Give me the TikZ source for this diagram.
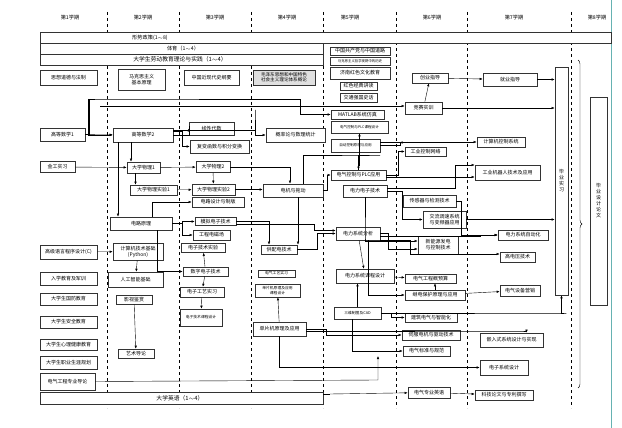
\documentclass[tikz,border=0pt]{standalone}
\usepackage{fontspec}
\setmainfont{Noto Sans CJK SC}
\usetikzlibrary{arrows.meta}
\usetikzlibrary{decorations.pathreplacing}
\tikzset{
box/.style = {draw=black!80, line width=0.6pt, fill=white, inner sep=0.5pt,
              font=\fontsize{5}{6}\selectfont, align=center}
}
\begin{document}
\begin{tikzpicture}[x=1pt,y=-1pt,
S/.style={box, fill=black!12},
lE/.style={thin,-{Latex[length=3pt,width=2.4pt]}},
lN/.style={thin},
bar/.style={draw=black!80, fill=white},
term/.style={font=\fontsize{5.2}{6}\selectfont},
col/.style={dashed, thin}]
%
\useasboundingbox (0,0) rectangle (622,428);
\draw[teal!60, line width=0.8pt] (611,0) -- (611,428);

% terms
\foreach \x/\n in {70/1,143/2,215/3,287/4,350/5,432/6,514/7,597/8}
  \node[term] at (\x,18) (T\n) {第\n 学期};
\foreach \x in {107,179,251,323,396,467,571}
  \draw[col] (\x,12) -- (\x,408);

% long bars
\draw[bar] (40,32) rectangle (611,43);
\node[term] at (150,37.5) (xszc) {形势政策(1$\sim$8)};
\draw[bar] (40,43) rectangle (323,54);
\node[term] at (183,48.5) (ty) {体育（1$\sim$4）};
\draw[bar] (40,54) rectangle (323,65);
\node[term,font=\fontsize{5.8}{6}\selectfont] at (180,59.5) (ld) {大学生劳动教育理论与实践（1$\sim$4）};
\draw[bar] (40,392) rectangle (323,404);
\node[term,font=\fontsize{5.8}{6}\selectfont] at (180,398) (yy) {大学英语（1$\sim$4）};

% term 1
\node[box, minimum width=57, minimum height=15] at (68.5,77.5) (sxdd) {思想道德与法制};
\node[box, minimum width=45, minimum height=13] at (62.5,134.5) (gs1) {高等数学1};
\node[box, minimum width=35, minimum height=11] at (57.5,167) (jg) {金工实习};
\node[box, minimum width=57, minimum height=14] at (68.5,252) (gjyy) {高级语言程序设计(C)};
\node[box, minimum width=57, minimum height=13] at (68.5,278.5) (rx) {入学教育及军训};
\node[box, minimum width=57, minimum height=12] at (68.5,299) (gf) {大学生国防教育};
\node[box, minimum width=57, minimum height=12] at (68.5,322) (aq) {大学生安全教育};
\node[box, minimum width=57, minimum height=11] at (68.5,344.5) (xl) {大学生心理健康教育};
\node[box, minimum width=57, minimum height=13] at (68.5,362.5) (zy) {大学生职业生涯规划};
\node[box, minimum width=55, minimum height=17] at (67.5,381.5) (dq) {电气工程专业导论};

% term 2
\node[box, minimum width=47, minimum height=21] at (141.5,79.5) (mks) {马克思主义\\基本原理};
\node[box, minimum width=60, minimum height=14] at (143,135) (gs2) {高等数学2};
\node[box, minimum width=33, minimum height=11] at (143.5,167.5) (wl1) {大学物理1};
\node[box, minimum width=47, minimum height=10] at (153.5,190) (sy1) {大学物理实验1};
\node[box, minimum width=62, minimum height=13] at (141,223.5) (dl) {电路原理};
\node[box, minimum width=50, minimum height=17] at (138,251.5) (py) {计算机技术基础\\(Python)};
\node[box, minimum width=55, minimum height=15] at (135.5,279.5) (ai) {人工智能基础};
\node[box, minimum width=36, minimum height=9] at (134,299.5) (ys) {影视鉴赏};
\node[box, minimum width=36, minimum height=9] at (136,353.5) (yl) {艺术导论};

% term 3
\node[box, minimum width=55, minimum height=15] at (211.5,77.5) (jds) {中国近现代史纲要};
\node[box, minimum width=45, minimum height=13] at (211.5,128.5) (xd) {线性代数};
\node[box, minimum width=59, minimum height=13] at (219.5,146.5) (fb) {复变函数与积分变换};
\node[box, minimum width=34, minimum height=11] at (213,167) (wl2) {大学物理2};
\node[box, minimum width=43, minimum height=11] at (213.5,189.5) (sy2) {大学物理实验2};
\node[box, minimum width=52, minimum height=10] at (218,202) (dlsj) {电路设计与制版};
\node[box, minimum width=41, minimum height=8] at (215.5,221.5) (mn) {模拟电子技术};
\node[box, minimum width=37, minimum height=10] at (211.5,235) (dcc) {工程电磁场};
\node[box, minimum width=44, minimum height=9] at (203,248) (dzsy) {电子技术实验};
\node[box, minimum width=45, minimum height=9] at (205.5,271.5) (sz) {数字电子技术};
\node[box, minimum width=44, minimum height=10] at (202,292) (gysx) {电子工艺实习};
\node[box, minimum width=42, minimum height=17, font=\fontsize{3.8}{4.5}\selectfont] at (201,317.5) (dzkc) {电子技术课程设计};

% term 4
\node[S, minimum width=62, minimum height=15, font=\fontsize{4.6}{5.4}\selectfont] at (284,77.5) (mg) {毛泽东思想和中国特色\\社会主义理论体系概论};
\node[box, minimum width=59, minimum height=14] at (295.5,135) (gl) {概率论与数理统计};
\node[box, minimum width=60, minimum height=13] at (293,190.5) (dj) {电机与拖动};
\node[box, minimum width=36, minimum height=9] at (279,249.5) (gpd) {供配电技术};
\node[box, minimum width=37, minimum height=7, font=\fontsize{3.8}{4.5}\selectfont] at (276.5,273.5) (dqgy) {电气工艺实习};
\node[box, minimum width=45, minimum height=13, font=\fontsize{3.8}{4.5}\selectfont] at (277.5,290.5) (dpkc) {单片机原理及应用\\课程设计};
\node[box, minimum width=53, minimum height=14] at (279.5,329) (dp) {单片机原理及应用};

% term 5
\node[box, minimum width=60, minimum height=8] at (360,51) (zgd) {中国共产党与中国道路};
\node[box, minimum width=60, minimum height=8, font=\fontsize{3.4}{4}\selectfont] at (360,61) (mkzx) {马克思主义哲学视野中的历史};
\node[box, minimum width=60, minimum height=12] at (360,73) (jnhs) {济南红色文化教育};
\node[box, minimum width=37, minimum height=8] at (358.5,86) (hsjd) {红色经典讲读};
\node[box, minimum width=37, minimum height=9] at (358.5,97.5) (jtqg) {交通强国史话};
\node[box, minimum width=53, minimum height=9] at (357.5,114.5) (mat) {MATLAB系统仿真};
\node[box, minimum width=57, minimum height=12, font=\fontsize{3.6}{4.2}\selectfont] at (359.5,127) (plckc) {电气控制与PLC课程设计};
\node[box, minimum width=49, minimum height=13, font=\fontsize{3.6}{4.2}\selectfont] at (355.5,145.5) (zk) {自动控制原理与应用};
\node[box, minimum width=55, minimum height=10] at (358.5,175) (plc) {电气控制与PLC应用};
\node[box, minimum width=44, minimum height=12] at (365,191) (dldz) {电力电子技术};
\node[box, minimum width=44, minimum height=13] at (358,233.5) (xtfx) {电力系统分析};
\node[box, minimum width=58, minimum height=14] at (365,276) (xtkc) {电力系统课程设计};
\node[box, minimum width=47, minimum height=12, font=\fontsize{3.8}{4.5}\selectfont] at (357.5,313) (cad) {三维制图及CAD};

% term 6
\node[box, minimum width=36, minimum height=10] at (430,78) (cy) {创业指导};
\node[box, minimum width=37, minimum height=12] at (423.5,108) (js) {竞赛实训};
\node[box, minimum width=41, minimum height=9] at (425.5,151.5) (gk) {工业控制网络};
\node[box, minimum width=53, minimum height=12] at (429.5,201) (cgq) {传感器与检测技术};
\node[box, minimum width=43, minimum height=17] at (444.5,219.5) (jl) {交流调速系统\\与变频器应用};
\node[box, minimum width=40, minimum height=18] at (438,245) (xny) {新能源发电\\与控制技术};
\node[box, minimum width=51, minimum height=9] at (430.5,278.5) (gys) {电气工程概预算};
\node[box, minimum width=60, minimum height=10] at (435,295) (jd) {继电保护原理与应用};
\node[box, minimum width=52, minimum height=9] at (431,317.5) (jz) {建筑电气与智能化};
\node[box, minimum width=58, minimum height=10] at (431,335) (sf) {伺服电机与驱动技术};
\node[box, minimum width=47, minimum height=10] at (426.5,351) (bz) {电气标准与规范};
\node[box, minimum width=42, minimum height=11] at (429,392.5) (zyyy) {电气专业英语};

% term 7
\node[box, minimum width=54, minimum height=13] at (510,79.5) (jy) {就业指导};
\node[box, minimum width=48, minimum height=10] at (501,142) (jsj) {计算机控制系统};
\node[box, minimum width=65, minimum height=15] at (507.5,172.5) (jqr) {工业机器人技术及应用};
\node[box, minimum width=50, minimum height=10] at (523,235) (zdh) {电力系统自动化};
\node[box, minimum width=35, minimum height=10] at (517.5,257) (gdy) {高电压技术};
\node[box, minimum width=40, minimum height=11] at (520,290.5) (yx) {电气设备营销};
\node[box, minimum width=63, minimum height=14] at (511.5,340) (qrs) {嵌入式系统设计与实现};
\node[box, minimum width=48, minimum height=15] at (504,367.5) (dzxt) {电子系统设计};
\node[box, minimum width=58, minimum height=10] at (504,395) (kj) {科技论文与专利撰写};

% term 8
\node[box, minimum width=13, minimum height=228] at (561.5,181) (bysx) {毕\\业\\实\\习};
\node[box, minimum width=17, minimum height=208] at (598.5,201) (bysj) {毕\\业\\设\\计\\论\\文};
\draw[decorate, decoration={brace, amplitude=4pt}, thin] (578,60) -- (578,388);

% links
\draw[lE] (gs1) -- (gs2);
\draw[lE] (gs2.east) -- (xd.west |- gs2.east) |- (xd);
\draw[lE] ([yshift=4]gs2.east) -- ++(9,0) |- (fb);
\draw[lE] ([xshift=-12]gs2.south) -- ([xshift=-12]gs2.south |- wl1.north);
\draw[lE] ([xshift=-25]gs2.south) -- ([xshift=-25]gs2.south |- dl.north);
\draw[lE] (jg) -- (wl1);
\draw[lE] (gs1.east) -- ++(4,0) |- (100,99) -- (300,99) |- (mat);
\draw[lE] (88,99) |- (gs2.west);
\draw[lE] (gs2.east) ++(0,-5) -| (255,110) |- (gl);
\draw[lE] (wl1) -- (wl2);
\draw[lE] ([xshift=-8]wl1.south) -- ([xshift=-8]wl1.south |- sy1.north);
\draw[lE] (sy1) -- (sy2);
\draw[lE] (wl2) -- (sy2);
\draw[lE] (wl2.east) -| ([xshift=-3]dj.north);
\draw[lE] (sy2.east) -- (dj.west |- sy2.east);
\draw[lE] (dl.east) -- ++(10,0) |- (mn);
\draw[lE] (dl.east) ++(10,0) |- (dcc);
\draw[lE] (dl.north east) ++(-20,0) |- (dlsj);
\draw[lE] (dl.south east) ++(-15,0) |- (sz);
\draw[lE] (gjyy) -- (py);
\draw[lE] (py) -- (ai);
\draw[lE] (ys) -- (yl);
\draw[lE] (sz) -- (dzsy);
\draw[lE] (sz) -- (gysx);
\draw[lE] (gysx) -- (dzkc);
\draw[lE] (mn.east) -| ([xshift=-10]gpd.north);
\draw[lE] ([xshift=5]dj.south) -- ([xshift=5]dj.south |- gpd.north);
\draw[lE] (dj.east) -- ++(4,0) |- (plc);
\draw[lE] (gpd.east) -- ++(20,0) |- (xtfx);
\draw[lE] (mn.east) ++(0,3) -- ++(78,0) |- ([yshift=3]xtfx.west);
\draw[lE] (xtfx) -- (xtkc);
\draw[lE] (xtfx.east) -- ++(8,0) |- ([yshift=-4]xny.west);
\draw[lE] (xtfx.south east) -- ++(30,0) |- ([yshift=3]gdy.west);
\draw[lE] (xtfx.east) ++(0,3) -- ++(100,0) |- (zdh);
\draw[lE] (dldz.south) -- ++(0,40) |- ([yshift=4]xny.west);
\draw[lE] (dldz.east) -- ++(15,0) |- (jl);
\draw[lE] (plc) -- ++(0,-10) -| (plckc.south);
\draw[lE] (plc.east) -- ++(12,0) |- (gk);
\draw[lE] (plc.east) ++(0,2) -- (jqr.west |- 0,177);
\draw[lE] (zk.east) -- ++(20,0) |- (jsj);
\draw[lE] (zk.east) ++(0,-3) -- (gk.west |- 0,142.5) ;
\draw[lE] (cgq.east) -- ++(5,0) |- (zdh.west);
\draw[lE] (jl) -- (bysx.west |- jl);
\draw[lE] (js) -- (cy);
\draw[lE] (cy) -- (jy);
\draw[lE] (jy) -- (bysx.west |- jy);
\draw[lE] (js) -- (bysx.west |- js);
\draw[lE] (100,106) -- (js.west |- 0,106);
\draw[lE] (xtkc) -- (gys);
\draw[lE] (jd) -- (yx);
\draw[lE] (cad.north) -- (xtkc.south -| cad.north);
\draw[lE] (cad.east) -- ++(10,0) |- (jz);
\draw[lE] ([xshift=-5]cad.south) |- (bz);
\draw[lE] (cad.east) -- ++(185,0) -| (bysx.south);
\draw[lE] (dp.east) -- ++(20,0) |- (sf);
\draw[lE] (dp.east) ++(0,2) -- ++(215,0) -| ([xshift=15]qrs.north);
\draw[lE] (dp) -- (dpkc);
\draw[lE] (dp.south) |- (dzxt);
\draw[lE] (dq.east) -- (378,380) -- (378,356);
\draw[lE] (330,394) -- (zyyy);
\draw[lE] (zyyy) -- (kj);
\draw[lN] (323,394) -- (330,394);
\draw[lE] ([xshift=10]dj.north) |- (380,155) -| (plc.north);
\draw[lE] (dldz.east) ++(0,-3) -| (455,165) -- (jqr.west |- 0,165);
\draw[lE] (jd.north) -- (gys.south -| jd.north);
\draw[lE] ([xshift=10]xtfx.south) |- (jd);
\end{tikzpicture}
\end{document}
